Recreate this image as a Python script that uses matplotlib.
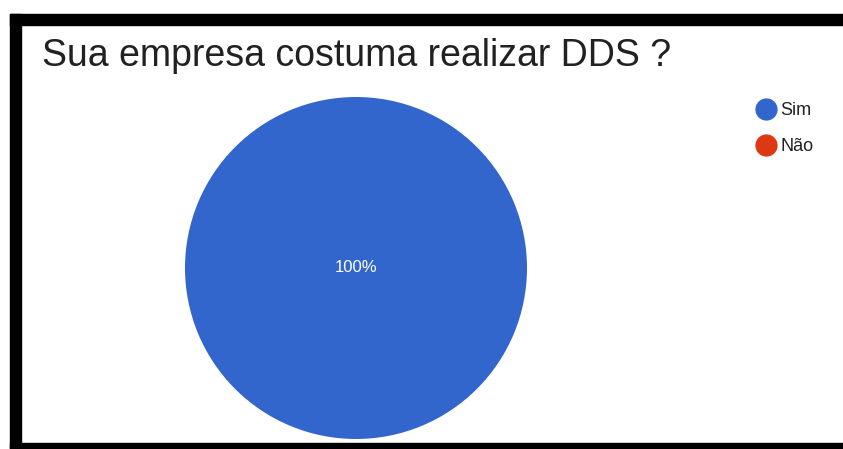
import matplotlib.pyplot as plt
from matplotlib.patches import Rectangle
from matplotlib.lines import Line2D

# Data
labels = ["Sim", "Não"]
values = [100, 0]
colors = ["#3366CC", "#DC3912"]
title = "Sua empresa costuma realizar DDS ?"

W, H = 843, 449
fig = plt.figure(figsize=(W / 100, H / 100), dpi=100)
fig.patch.set_facecolor("white")

# black frame (top, left, bottom) like the screenshot
frame = dict(transform=fig.transFigure, color="black", zorder=0)
fig.add_artist(Rectangle((10 / W, 0), 11 / W, (H - 14) / H, **frame))
fig.add_artist(Rectangle((10 / W, (H - 25) / H), (W - 10) / W, 11 / H, **frame))
fig.add_artist(Rectangle((10 / W, 0), (W - 10) / W, 6 / H, **frame))

# Pie
cx, cy, r = 356, 268, 171
ax = fig.add_axes([(cx - r) / W, (H - cy - r) / H, 2 * r / W, 2 * r / H])
wedges, _ = ax.pie(values, colors=colors, startangle=90, counterclock=False,
                   wedgeprops=dict(linewidth=0))
ax.set_xlim(-1, 1)
ax.set_ylim(-1, 1)
ax.set_aspect("equal")
ax.axis("off")
ax.text(0, 0, f"{values[0]}%", color="white", fontsize=12,
        ha="center", va="center", family="Liberation Sans")

fig.text(42 / W, 1 - 56 / H, title, fontsize=27, color="#212121",
         ha="left", va="center", family="Liberation Sans")

# Legend
handles = [Line2D([], [], marker="o", linestyle="", markersize=15,
                  markerfacecolor=c, markeredgecolor=c) for c in colors]
fig.legend(handles, labels, loc="upper left",
           bbox_to_anchor=(747 / W, 1 - 95 / H), frameon=False,
           prop=dict(family="Liberation Sans", size=13),
           handletextpad=0.15, labelspacing=1.05, handlelength=1.3,
           borderaxespad=0, labelcolor="#222222")

fig.savefig("out.png", dpi=100)
